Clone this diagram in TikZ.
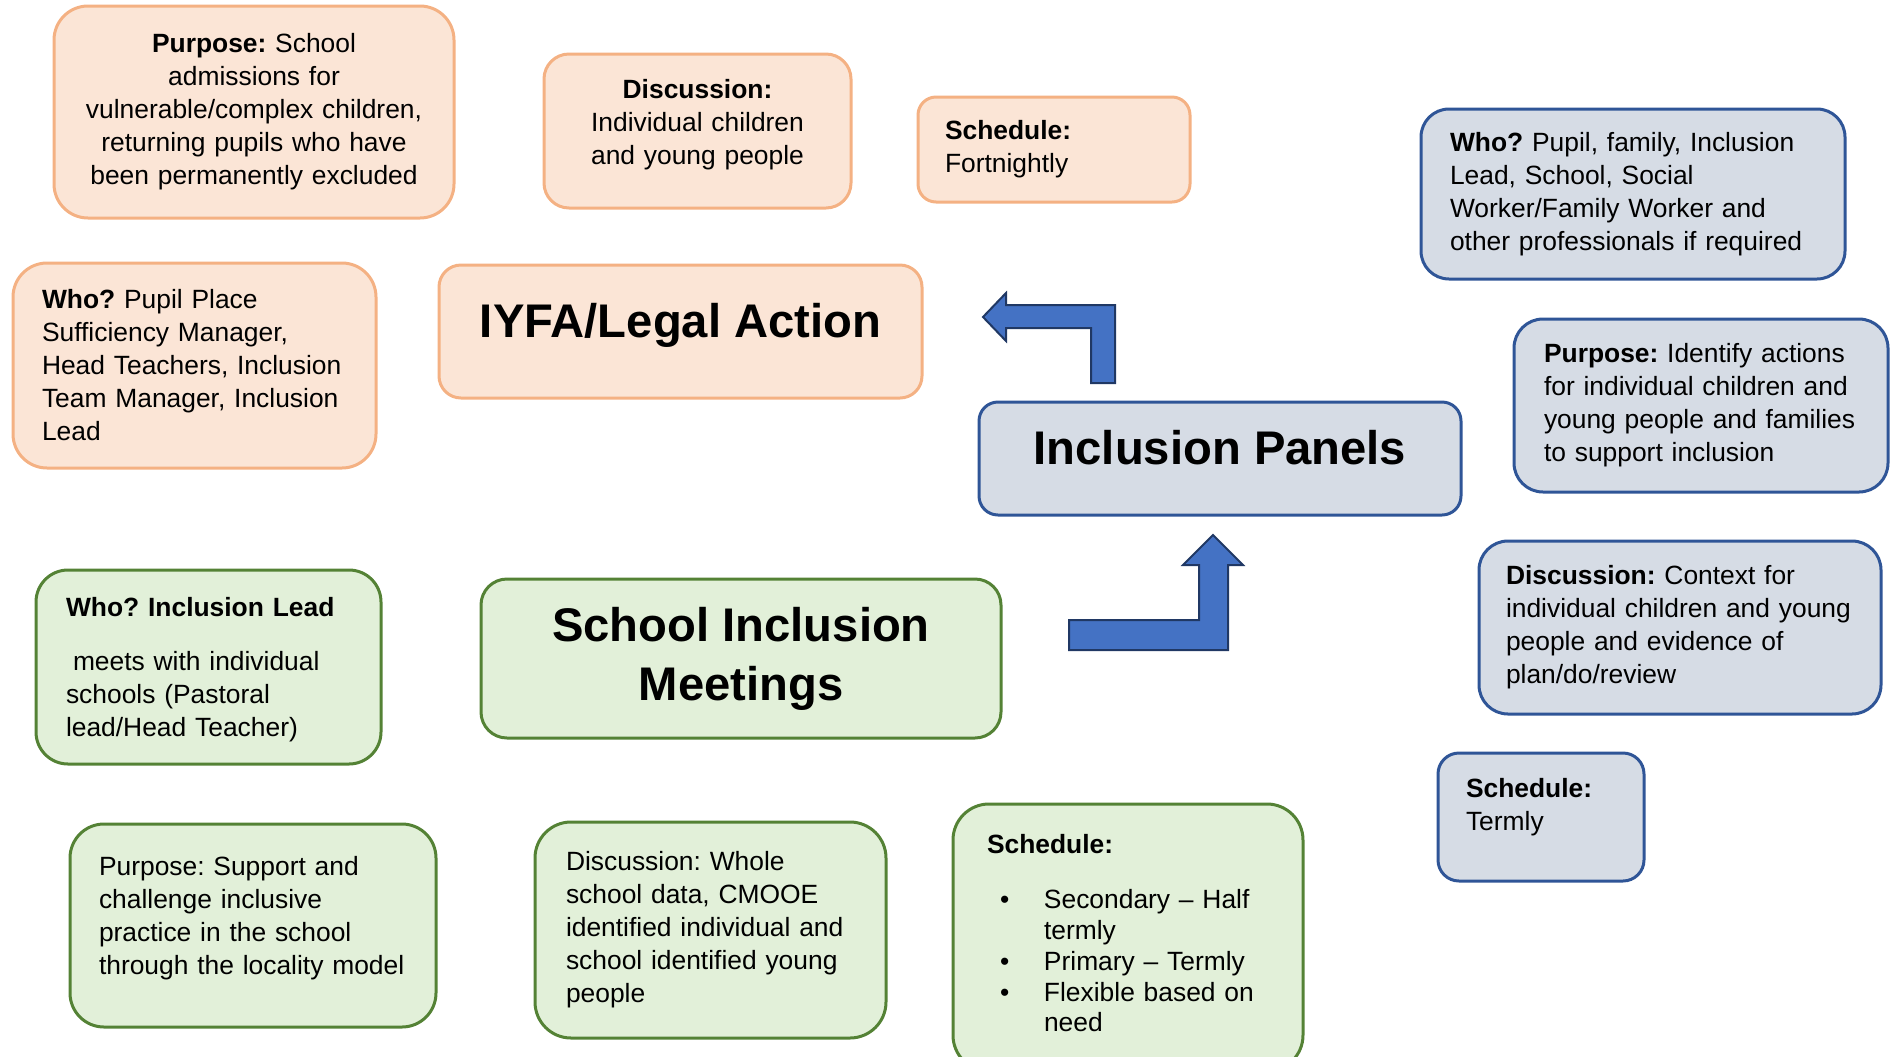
\documentclass[tikz,border=0pt]{standalone}
\usepackage{fontspec}
\setmainfont{Liberation Sans}
\frenchspacing
\usetikzlibrary{positioning}
\definecolor{orfill}{HTML}{FBE5D6}
\definecolor{orline}{HTML}{F4B183}
\definecolor{blfill}{HTML}{D6DCE5}
\definecolor{blline}{HTML}{2F5597}
\definecolor{grfill}{HTML}{E2F0D9}
\definecolor{grline}{HTML}{548235}
\definecolor{arfill}{HTML}{4472C4}
\definecolor{arline}{HTML}{203864}
\begin{document}
\begin{tikzpicture}[x=0.5pt, y=-0.5pt,
    every node/.style={font=\fontsize{13.2}{16.5}\selectfont, inner ysep=2pt},
    orangebox/.style={draw=orline, fill=orfill, line width=1.5pt},
    bluebox/.style={draw=blline, fill=blfill, line width=1.5pt},
    greenbox/.style={draw=grline, fill=grfill, line width=1.5pt},
    heading/.style={font=\fontsize{23.6}{29.5}\selectfont\bfseries, align=center, inner xsep=8pt},
    blockarrow/.style={draw=arline, fill=arfill, line width=1pt, line join=miter},
    ]
\useasboundingbox (0,0) rectangle (1892,1056);

\node[orangebox, minimum width=200pt, minimum height=106pt, rounded corners=17pt,
    inner xsep=8pt, text width=184pt, align=center] (opurpose) at (254,112)
    {\textbf{Purpose:} School\\admissions for\\vulnerable/complex children,\\returning pupils who have\\been permanently excluded};
\node[orangebox, minimum width=153.5pt, minimum height=77pt, rounded corners=12.5pt,
    inner xsep=8pt, text width=137.5pt, align=center, text depth=41.8pt] (odisc) at (697.5,131)
    {\textbf{Discussion:}\\Individual children\\and young people};
\node[orangebox, minimum width=136pt, minimum height=52.5pt, rounded corners=9pt,
    inner xsep=13.5pt, text width=109pt, align=left] (osched) at (1054,149.5)
    {\textbf{Schedule:}\\Fortnightly};
\node[orangebox, minimum width=181.5pt, minimum height=102.5pt, rounded corners=17pt,
    inner xsep=14.5pt, text width=152.5pt, align=left] (owho) at (194.5,365.5)
    {\textbf{Who?} Pupil Place\\Sufficiency Manager,\\Head Teachers, Inclusion\\Team Manager, Inclusion\\Lead};
\node[orangebox, heading, minimum width=241.5pt, minimum height=66.5pt, rounded corners=11pt,
    text depth=11pt] (iyfa) at (680.5,331.5)
    {IYFA/Legal Action};

\node[bluebox, minimum width=212pt, minimum height=85pt, rounded corners=14pt,
    inner xsep=14.5pt, text width=183pt, align=left] (bwho) at (1633,194)
    {\textbf{Who?} Pupil, family, Inclusion\\Lead, School, Social\\Worker/Family Worker and\\other professionals if required};
\node[bluebox, minimum width=187pt, minimum height=86.5pt, rounded corners=14.5pt,
    inner xsep=15pt, text width=157pt, align=left] (bpurpose) at (1701,405.5)
    {\textbf{Purpose:} Identify actions\\for individual children and\\young people and families\\to support inclusion};
\node[bluebox, heading, minimum width=241pt, minimum height=56.5pt, rounded corners=9.5pt,
    text depth=11pt] (panels) at (1220,458.5)
    {Inclusion Panels};
\node[bluebox, minimum width=201pt, minimum height=86.5pt, rounded corners=14.5pt,
    inner xsep=13.5pt, text width=174pt, align=left] (bdisc) at (1680,627.5)
    {\textbf{Discussion:} Context for\\individual children and young\\people and evidence of\\plan/do/review};
\node[bluebox, minimum width=103pt, minimum height=64pt, rounded corners=10.5pt,
    inner xsep=14pt, text width=75pt, align=left, text depth=28.9pt] (bsched) at (1541,817)
    {\textbf{Schedule:}\\Termly};

\node[greenbox, minimum width=172.5pt, minimum height=97pt, rounded corners=16pt,
    inner xsep=15pt, text width=142.5pt, align=left, text depth=60pt] (gwho) at (208.5,667)
    {\textbf{Who? Inclusion Lead}\\[10.6pt]\hspace*{3.5pt}meets with individual\\schools (Pastoral\\lead/Head Teacher)};
\node[greenbox, heading, minimum width=260pt, minimum height=79.5pt, rounded corners=13pt] (meetings) at (741,658.5)
    {School Inclusion\\Meetings};
\node[greenbox, minimum width=183pt, minimum height=101.5pt, rounded corners=17pt,
    inner xsep=14.5pt, text width=154pt, align=left, text depth=59.5pt] (gpurpose) at (253,925.5)
    {Purpose: Support and\\challenge inclusive\\practice in the school\\through the locality model};
\node[greenbox, minimum width=175.5pt, minimum height=108pt, rounded corners=18pt,
    inner xsep=15.5pt, text width=144.5pt, align=left] (gdisc) at (710.5,930)
    {Discussion: Whole\\school data, CMOOE\\identified individual and\\school identified young\\people};
\node[greenbox, minimum width=175pt, minimum height=133.6pt, rounded corners=18pt,
    inner xsep=17pt, text width=141pt, align=left] (gsched) at (1128,937.6)
    {\textbf{Schedule:}\\[15.8pt]
    \fontsize{13.2}{15.4}\selectfont
    \begin{tabular}{@{\hspace{6.5pt}}p{22pt}@{}p{112pt}@{}}
    \textbullet & Secondary -- Half termly\\
    \textbullet & Primary -- Termly\\
    \textbullet & Flexible based on need
    \end{tabular}};

\draw[blockarrow] (1115,383) -- (1115,305) -- (1006,305) -- (1006,293) -- (983,317)
    -- (1006,341) -- (1006,328) -- (1091,328) -- (1091,383) -- cycle;
\draw[blockarrow] (1069,620) -- (1199,620) -- (1199,565) -- (1183,565) -- (1213,535)
    -- (1243,565) -- (1228,565) -- (1228,650) -- (1069,650) -- cycle;

\end{tikzpicture}
\end{document}
